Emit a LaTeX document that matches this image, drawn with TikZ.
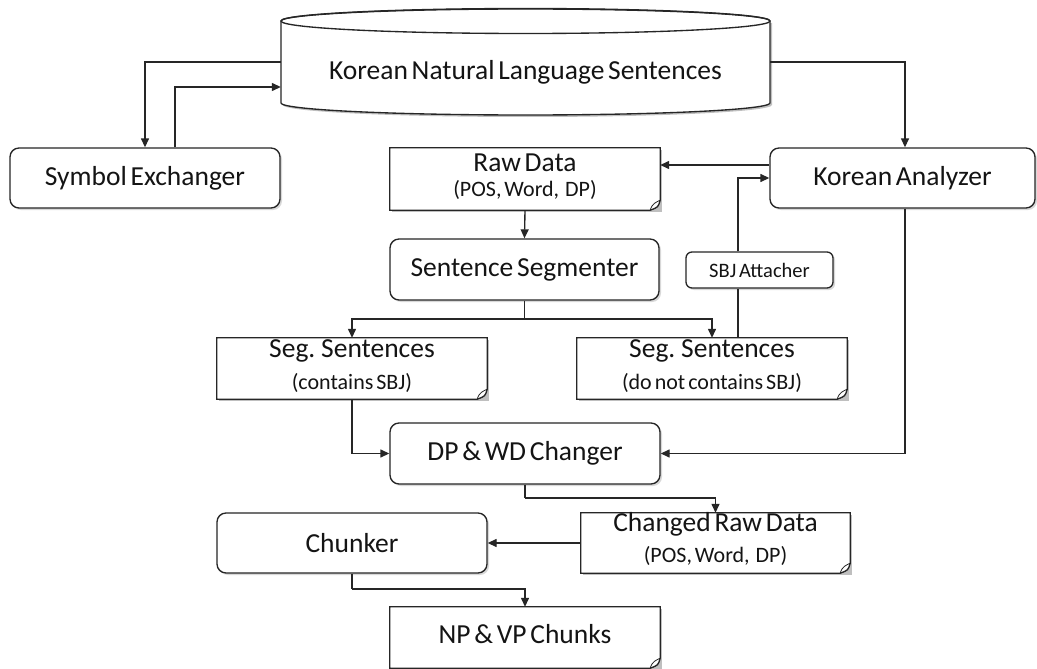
\documentclass[tikz,border=0pt]{standalone}
\usepackage{fontspec}
\setmainfont[WordSpace=0.6]{Carlito}
\usetikzlibrary{arrows.meta,shadows}
\tikzset{
  ln/.style={line width=1.35pt, draw=black!85},
  arr/.style={ln, -{Triangle[length=9pt,width=8pt]}},
  shade/.style={drop shadow={shadow xshift=2pt, shadow yshift=-2pt, opacity=.3}},
  rbox/.style={draw=black!85, line width=1.35pt, rounded corners=9pt, fill=white, inner sep=0pt, shade},
  docbox/.style={draw=none, inner sep=0pt},
  docline/.style={draw=black!85, line width=1.35pt, fill=white},
  big/.style={font=\fontsize{27.5}{33}\selectfont, text=black!92, inner sep=0pt},
  small/.style={font=\fontsize{22}{26}\selectfont, text=black!92, inner sep=0pt},
  tiny/.style={font=\fontsize{20.5}{24}\selectfont, text=black!92, inner sep=0pt},
}
\newcommand\docnode[5]{%
  \node[docbox, minimum width=#4pt, minimum height=#5pt] (#1) at (#2,#3) {};
  \fill[black, opacity=.25] ([xshift=2pt,yshift=-2pt]#1.north west) rectangle ([xshift=2pt,yshift=-2pt]#1.south east);
  \draw[docline] (#1.north west) -- (#1.north east) -- ([yshift=10pt]#1.south east)
     .. controls ([xshift=-2pt,yshift=3pt]#1.south east) .. ([xshift=-10pt]#1.south east)
     -- (#1.south west) -- cycle;
  \draw[draw=black!85, line width=.8pt] ([xshift=-10pt]#1.south east)
     .. controls ([xshift=-8pt,yshift=7pt]#1.south east) and ([xshift=-4pt,yshift=8pt]#1.south east) .. ([yshift=10pt]#1.south east);
}
\begin{document}
\begin{tikzpicture}[x=1pt,y=-1pt]
\useasboundingbox[fill=white] (0,0) rectangle (1037,669);

% guide coordinates
\coordinate (cx1) at (145,0);
\coordinate (cx2) at (175,0);
\coordinate (cx3) at (905,0);
\coordinate (cx4) at (738,0);
\coordinate (cy1) at (0,62);
\coordinate (cy2) at (0,87);
\coordinate (cy3) at (0,165);
\coordinate (cy4) at (0,319);
\coordinate (cy5) at (0,178);
\coordinate (cy6) at (0,498);
\coordinate (cy7) at (0,589);

% database cylinder
\node[inner sep=0pt, minimum width=489pt, minimum height=107pt] (db) at (525.5,61.5) {};
\fill[black, opacity=.25] (283,23) -- (283,105) arc[start angle=180,end angle=360,x radius=244.5pt,y radius=12pt] -- (772,23) -- cycle;
\filldraw[ln, fill=white] (281,21) -- (281,103) arc[start angle=180,end angle=360,x radius=244.5pt,y radius=12pt] -- (770,21) arc[start angle=0,end angle=180,x radius=244.5pt,y radius=12pt] -- cycle;
\draw[ln] (525.5,21) ellipse[x radius=244.5pt, y radius=12.5pt];
\node[big] (db-t) at (525.5,72) {Korean Natural Language Sentences};

% rounded process boxes
\node[rbox, minimum width=270pt, minimum height=60pt, big] (sym) at (145,178) {Symbol Exchanger};
\node[rbox, minimum width=265pt, minimum height=60pt, big] (ana) at (902.5,178) {Korean Analyzer};
\node[rbox, minimum width=269pt, minimum height=61pt, big] (seg) at (524.5,269.5) {Sentence Segmenter};
\node[rbox, minimum width=147pt, minimum height=36pt, rounded corners=6pt, tiny] (sbj) at (759.5,270) {SBJ Attacher};
\node[rbox, minimum width=270pt, minimum height=61pt, big] (dp) at (525,453.5) {DP \& WD Changer};
\node[rbox, minimum width=270pt, minimum height=60pt, big] (chk) at (352,543) {Chunker};

% documents
\docnode{raw}{525}{179}{270}{62}
\node[big] (raw-t1) at (525,163) {Raw Data};
\node[small] (raw-t2) at (525,190) {(POS, Word,\ \ DP)};

\docnode{s1}{352}{368.5}{270}{61}
\node[big] (s1-t1) at (352,351) {Seg. Sentences};
\node[small] (s1-t2) at (352,383) {(contains SBJ)};

\docnode{s2}{712}{368.5}{270}{61}
\node[big] (s2-t1) at (712,351) {Seg. Sentences};
\node[small] (s2-t2) at (712,383) {(do not contains SBJ)};

\docnode{cr}{715.5}{543}{269}{60}
\node[big] (cr-t1) at (715.5,524) {Changed Raw Data};
\node[small] (cr-t2) at (715.5,556) {(POS, Word,\ \ DP)};

\docnode{np}{525}{637.5}{270}{61}
\node[big] (np-t) at (525,634) {NP \& VP Chunks};

% connectors
\draw[arr] (db.west |- cy1) -| (sym.north -| cx1);
\draw[arr] (sym.north -| cx2) |- (db.west |- cy2);
\draw[arr] (db.east |- cy1) -| (ana.north -| cx3);
\draw[arr] (ana.west |- cy3) -- (raw.east |- cy3);
\draw[arr] (raw.south) -- (seg.north);
\draw[ln] (seg.south) -- (seg.south |- cy4);
\draw[arr] (seg.south |- cy4) -| (s1.north);
\draw[arr] (seg.south |- cy4) -| (s2.north);
\draw[ln] (s2.north -| cx4) -- (sbj.south -| cx4);
\draw[arr] (sbj.north -| cx4) |- (ana.west |- cy5);
\draw[arr] (s1.south) |- (dp.west);
\draw[arr] (ana.south -| cx3) |- (dp.east);
\draw[ln] (dp.south) -- (dp.south |- cy6);
\draw[arr] (dp.south |- cy6) -| (cr.north);
\draw[arr] (cr.west) -- (chk.east);
\draw[ln] (chk.south) -- (chk.south |- cy7);
\draw[arr] (chk.south |- cy7) -| (np.north);
\end{tikzpicture}
\end{document}
